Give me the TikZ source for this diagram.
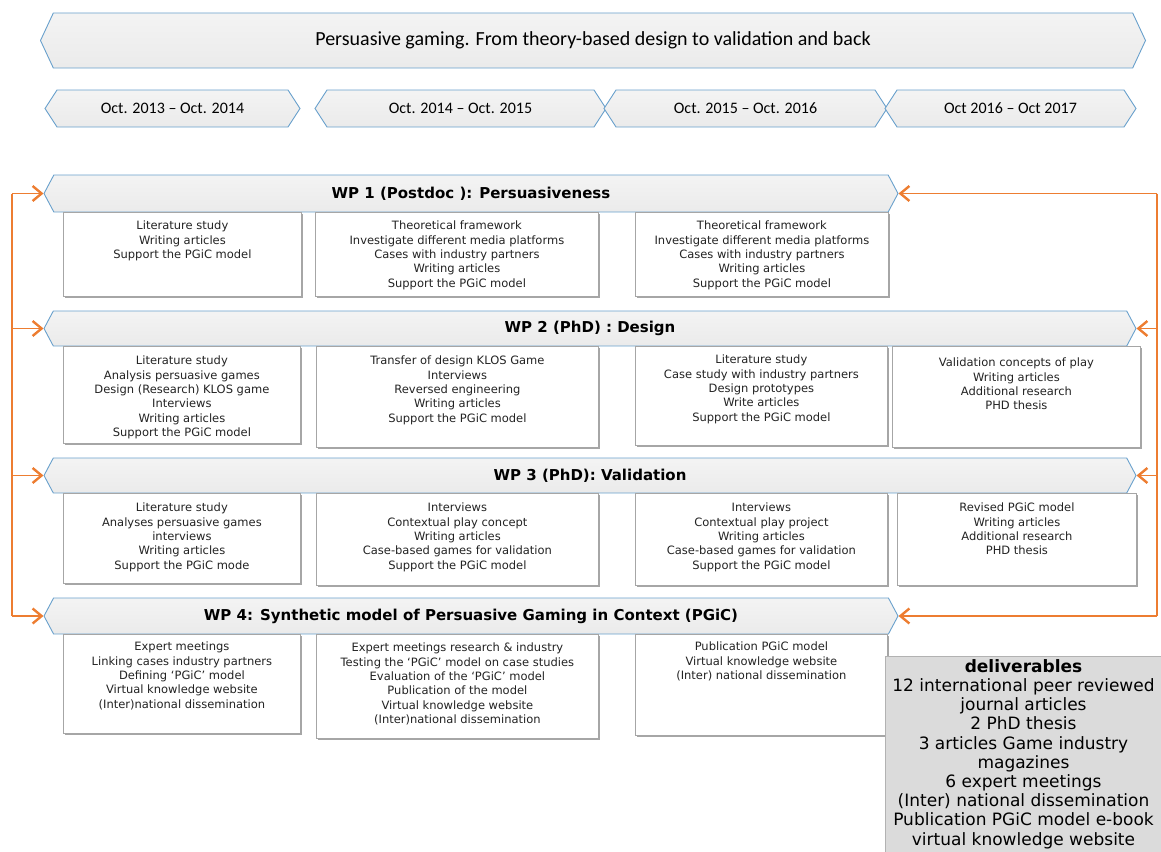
\documentclass[tikz,border=0pt]{standalone}
\usepackage{fontspec}
\setmainfont{DejaVu Sans}
\newfontfamily\calibrifont{Carlito}
\usetikzlibrary{arrows.meta,shapes.symbols,shadows,positioning}
\definecolor{hdrblue}{RGB}{104,160,204}
\definecolor{fborange}{RGB}{237,125,49}
\definecolor{txtgray}{RGB}{35,35,35}
\tikzset{banner/.style={
    signal,signal to=west and east,signal pointer angle=130,
    inner sep=0pt,draw=hdrblue,line width=0.9pt,
    top color=gray!9,bottom color=gray!16,
    font=\calibrifont\fontsize{20}{24}\selectfont}
    }
\tikzset{period/.style={
    banner,minimum height=37pt,signal pointer angle=114,
    font=\calibrifont\fontsize{16}{19}\selectfont}
    }
\tikzset{wpblk/.style={
    banner,minimum height=37pt,signal pointer angle=124,
    font=\bfseries\fontsize{15}{18}\selectfont}
    }
\tikzset{task/.style={
    rectangle,anchor=north west,draw=gray!70,line width=0.8pt,fill=white,
    drop shadow={shadow xshift=1.2pt,shadow yshift=-1.2pt,fill=black,opacity=0.35}},
  tasktxt/.style={align=center,inner sep=0pt,text=txtgray,
    font=\fontsize{11.5}{14.3}\selectfont},
  deliv/.style={rectangle,draw=gray!60,fill=gray!28,align=center,
    inner sep=0pt,font=\fontsize{17}{19.2}\selectfont},
  feedback/.style={draw=fborange,line width=1.3pt,
    -{Straight Barb[length=9pt,width=15pt,line width=2.4pt]}},
}

\begin{document}
\begin{tikzpicture}[x=1pt,y=-1pt]
  \useasboundingbox (0,0) rectangle (1161,851);
  % banner and periods
  \node (title) [banner,minimum width=1105pt,minimum height=55pt] at (593,40.5)
    {Persuasive gaming. From theory-based design to validation and back};
  \node (p1) [period,minimum width=255pt] at (172.5,108.5) {Oct. 2013 – Oct. 2014};
  \node (p2) [period,minimum width=291pt] at (460.5,108.5) {Oct. 2014 – Oct. 2015};
  \node (p3) [period,minimum width=283pt] at (745.5,108.5) {Oct. 2015 – Oct. 2016};
  \node (p4) [period,minimum width=251pt] at (1010.5,108.5) {Oct 2016 – Oct 2017};

  % WP 1
  \node (wp1) [wpblk,minimum width=854pt] at (471,193.5) {WP 1 (Postdoc ): Persuasiveness};
  \node (b11) [task,minimum width=238pt,minimum height=84pt] at (63,212) {};
  \node (b12) [task,minimum width=283pt,minimum height=84pt] at (315,212) {};
  \node (b13) [task,minimum width=253pt,minimum height=84pt] at (635,212) {};
  \node (t11) [tasktxt,below=9pt of b11.north] {Literature study\\Writing articles\\Support the PGiC model};
  \node (t12) [tasktxt,below=9pt of b12.north] {Theoretical framework\\Investigate different media platforms\\Cases with industry partners\\Writing articles\\Support the PGiC model};
  \node (t13) [tasktxt,below=9pt of b13.north] {Theoretical framework\\Investigate different media platforms\\Cases with industry partners\\Writing articles\\Support the PGiC model};

  % WP 2
  \node (wp2) [wpblk,minimum width=1092pt,minimum height=35pt] at (590,328.5) {WP 2 (PhD) : Design};
  \node (b21) [task,minimum width=237pt,minimum height=97pt] at (63,346) {};
  \node (b22) [task,minimum width=282pt,minimum height=101pt] at (316,346) {};
  \node (b23) [task,minimum width=252pt,minimum height=99pt] at (635,346) {};
  \node (b24) [task,minimum width=248pt,minimum height=101pt] at (892,346) {};
  \node (t21) [tasktxt,below=10pt of b21.north] {Literature study\\Analysis persuasive games\\Design (Research) KLOS game\\Interviews\\Writing articles\\Support the PGiC model};
  \node (t22) [tasktxt,below=10pt of b22.north] {Transfer of design KLOS Game\\Interviews\\Reversed engineering\\Writing articles\\Support the PGiC model};
  \node (t23) [tasktxt,below=9pt of b23.north] {Literature study\\Case study with industry partners\\Design prototypes\\Write articles\\Support the PGiC model};
  \node (t24) [tasktxt,below=12pt of b24.north] {Validation concepts of play\\Writing articles\\Additional research\\PHD thesis};

  % WP 3
  \node (wp3) [wpblk,minimum width=1092pt,minimum height=35pt] at (590,475.5) {WP 3 (PhD): Validation};
  \node (b31) [task,minimum width=237pt,minimum height=90pt] at (63,493) {};
  \node (b32) [task,minimum width=282pt,minimum height=92pt] at (316,493) {};
  \node (b33) [task,minimum width=252pt,minimum height=92pt] at (635,493) {};
  \node (b34) [task,minimum width=239pt,minimum height=92pt] at (897,493) {};
  \node (t31) [tasktxt,below=10pt of b31.north] {Literature study\\Analyses persuasive games\\interviews\\Writing articles\\Support the PGiC mode};
  \node (t32) [tasktxt,below=10pt of b32.north] {Interviews\\Contextual play concept\\Writing articles\\Case-based games for validation\\Support the PGiC model};
  \node (t33) [tasktxt,below=10pt of b33.north] {Interviews\\Contextual play project\\Writing articles\\Case-based games for validation\\Support the PGiC model};
  \node (t34) [tasktxt,below=10pt of b34.north] {Revised PGiC model\\Writing articles\\Additional research\\PHD thesis};

  % WP 4
  \node (wp4) [wpblk,minimum width=854pt,minimum height=36pt] at (471,616)
    {WP 4: Synthetic model of Persuasive Gaming in Context (PGiC)};
  \node (b41) [task,minimum width=237pt,minimum height=99pt] at (63,634) {};
  \node (b42) [task,minimum width=282pt,minimum height=104pt] at (316,634) {};
  \node (b43) [task,minimum width=252pt,minimum height=101pt] at (635,634) {};
  \node (t41) [tasktxt,below=8pt of b41.north] {Expert meetings\\Linking cases industry partners\\Defining ‘PGiC’ model\\Virtual knowledge website\\(Inter)national dissemination};
  \node (t42) [tasktxt,below=9pt of b42.north] {Expert meetings research \& industry\\Testing the ‘PGiC’ model on case studies\\Evaluation of the ‘PGiC’ model\\Publication of the model\\Virtual knowledge website\\(Inter)national dissemination};
  \node (t43) [tasktxt,below=8pt of b43.north] {Publication PGiC model\\Virtual knowledge website\\(Inter) national dissemination};

  % deliverables
  \node (del) [deliv,minimum width=277pt,minimum height=196pt] at (1023.5,754)
    {\textbf{deliverables}\\12 international peer reviewed\\journal articles\\2 PhD thesis\\3 articles Game industry\\magazines\\6 expert meetings\\(Inter) national dissemination\\Publication PGiC model e-book\\virtual knowledge website};

  % feedback loops
  \coordinate (lt) at (12,193.5);
  \coordinate (lb) at (12,616);
  \coordinate (rt) at (1157,193.5);
  \coordinate (rb) at (1157,616);
  \draw[draw=fborange,line width=1.3pt] (lt) -- (lb);
  \draw[draw=fborange,line width=1.3pt] (rt) -- (rb);
  \draw[feedback] (lt) -- (wp1.west);
  \draw[feedback] (wp2.west -| lt) -- (wp2.west);
  \draw[feedback] (wp3.west -| lt) -- (wp3.west);
  \draw[feedback] (lb) -- (wp4.west);
  \draw[feedback] (rt) -- (wp1.east);
  \draw[feedback] (wp2.east -| rt) -- (wp2.east);
  \draw[feedback] (wp3.east -| rt) -- (wp3.east);
  \draw[feedback] (rb) -- (wp4.east);
\end{tikzpicture}
\end{document}
